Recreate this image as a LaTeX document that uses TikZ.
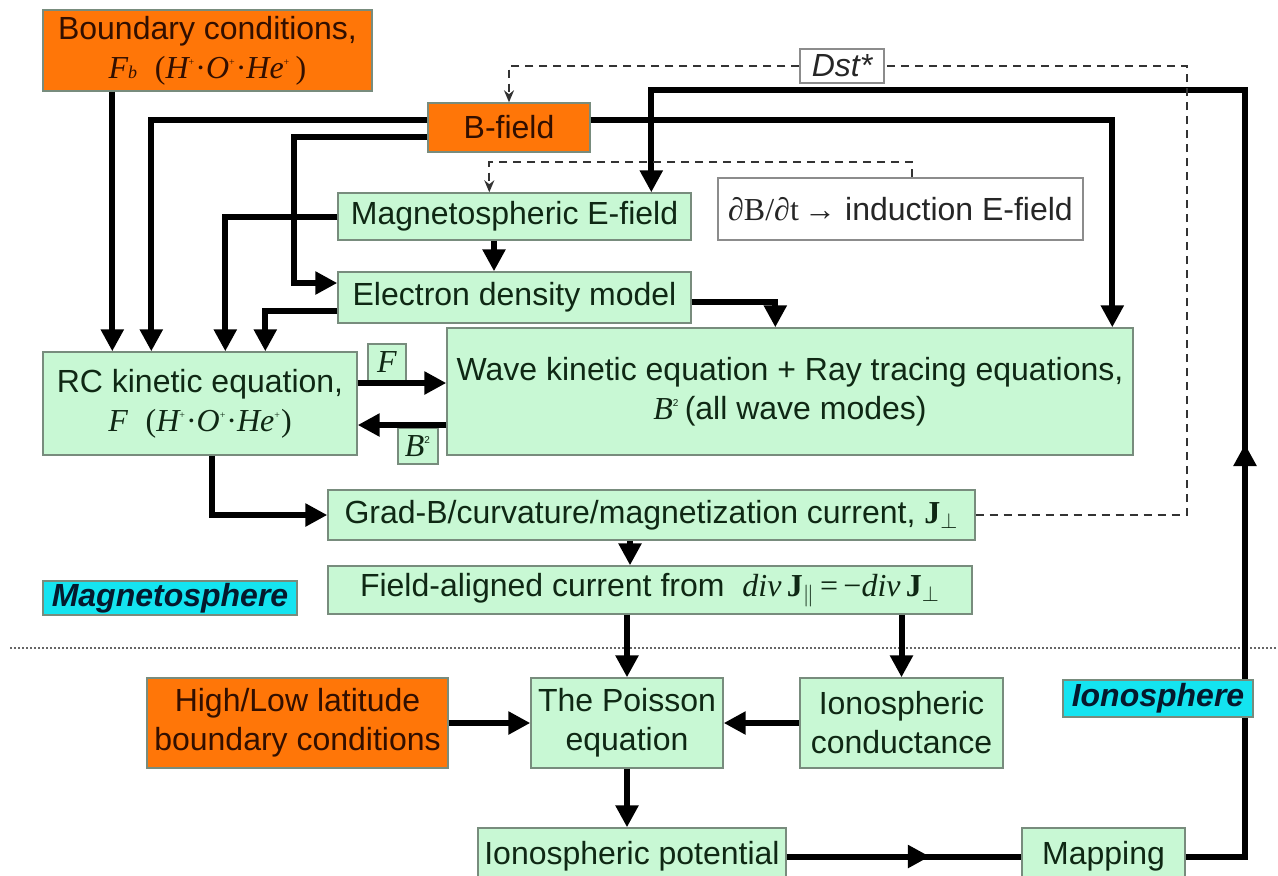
\documentclass[tikz,border=0pt]{standalone}
\usepackage{fontspec}
\setmainfont{Liberation Sans}
\newfontfamily\tmsfont{Liberation Serif}
\usetikzlibrary{arrows.meta,decorations.markings}
\definecolor{boxgreen}{RGB}{200,248,212}
\definecolor{boxorange}{RGB}{255,118,8}
\definecolor{boxcyan}{RGB}{20,228,240}
\definecolor{edgegray}{RGB}{120,140,125}
\definecolor{txtgreen}{RGB}{15,40,20}
\definecolor{txtbrown}{RGB}{50,15,0}
\definecolor{txtnavy}{RGB}{5,25,45}
\newcommand{\tmi}[1]{{\tmsfont\itshape #1}}
\newcommand{\tmb}[1]{{\tmsfont\bfseries #1}}
\newcommand{\sps}{\textsuperscript{\tiny +}}
\begin{document}
\begin{tikzpicture}[x=0.5pt,y=-0.5pt,
  base/.style={draw=edgegray, line width=0.7pt, inner sep=1pt, align=center, font=\fontsize{16}{19.5}\selectfont},
  gbox/.style={base, fill=boxgreen, text=txtgreen},
  obox/.style={base, fill=boxorange, text=txtbrown},
  cbox/.style={base, fill=boxcyan, text=txtnavy, font=\fontsize{16}{19.5}\selectfont\bfseries\itshape},
  wbox/.style={base, draw=black!45, fill=white, text=black!85},
  sbox/.style={gbox, inner sep=0pt},
  thkline/.style={line width=3pt},
  thk/.style={line width=3pt, -{Triangle[width=11pt,length=11pt]}},
  midarrow/.style={postaction={decorate}, decoration={markings, mark=at position #1 with {\arrow{Triangle[width=11pt,length=11pt]}}}},
  dsh/.style={draw=black!80, line width=0.9pt, dash pattern=on 4pt off 3pt},
  dtip/.style={-{Stealth[width=5pt,length=6pt]}},
  sepline/.style={draw=black!60, line width=0.7pt, dash pattern=on 0.8pt off 1.2pt}
]
\clip (0,0) rectangle (1278,875);
\fill[white] (0,0) rectangle (1278,875);

% nodes
\node[obox, minimum width=164.5pt, minimum height=40.5pt] (bc) at (207.5,50.5)
  {Boundary conditions,\\ \tmi{F}{\tmsfont\itshape\small b}\ \ {\tmsfont(\tmi{H}\sps·\tmi{O}\sps·\tmi{He}\sps\,)}};
\node[wbox, minimum width=42pt, minimum height=17pt, font=\fontsize{16}{19}\selectfont\itshape] (dst) at (842,66) {Dst*};
\node[obox, minimum width=81pt, minimum height=24.5pt] (bfield) at (509,127.5) {B-field};
\node[gbox, minimum width=176.5pt, minimum height=23.5pt] (efield) at (514.5,216.5) {Magnetospheric E-field};
\node[wbox, minimum width=182.5pt, minimum height=31pt] (induc) at (900.5,209) {{\tmsfont ∂B/∂t\,→}\ induction E-field};
\node[gbox, minimum width=176.5pt, minimum height=25.5pt] (edens) at (514.5,297.5) {Electron density model};
\node[gbox, minimum width=157pt, minimum height=51.5pt] (rc) at (200,403.5)
  {RC kinetic equation,\\ \tmi{F}\ \ {\tmsfont(\tmi{H}\sps·\tmi{O}\sps·\tmi{He}\sps)}};
\node[sbox, minimum width=19pt, minimum height=18.5pt] (fbox) at (387,362.5) {\tmi{F}};
\node[sbox, minimum width=20pt, minimum height=18pt] (b2box) at (418,446) {\tmi{B}\textsuperscript{\tiny 2}};
\node[gbox, minimum width=343pt, minimum height=63.5pt] (wave) at (790,391.5)
  {Wave kinetic equation + Ray tracing equations,\\ \tmi{B}\textsuperscript{\tiny 2}\,(all wave modes)};
\node[gbox, minimum width=323.5pt, minimum height=25pt] (gradb) at (651.5,515)
  {Grad-B/curvature/magnetization current, \tmb{J}\textsubscript{$\perp$}};
\node[gbox, minimum width=322pt, minimum height=24pt] (fac) at (650,590)
  {Field-aligned current from\ \ \tmi{div}\,\tmb{J}\textsubscript{$\parallel$}{\tmsfont\,=\,−}\tmi{div}\,\tmb{J}\textsubscript{$\perp$}};
\node[cbox, minimum width=127pt, minimum height=16pt] (magneto) at (170,598) {Magnetosphere};
\node[obox, minimum width=150.5pt, minimum height=45pt] (hilo) at (297.5,723) {High/Low latitude\\boundary conditions};
\node[gbox, minimum width=96pt, minimum height=45pt] (poisson) at (627,723) {The Poisson\\equation};
\node[gbox, minimum width=101.5pt, minimum height=45pt] (iconduc) at (901.5,723) {Ionospheric\\conductance};
\node[gbox, minimum width=154pt, minimum height=28.5pt] (ipot) at (632,856.5) {Ionospheric potential};
\node[gbox, minimum width=81.5pt, minimum height=28.5pt] (mapping) at (1103.5,856.5) {Mapping};

% separator
\draw[sepline] (10,648) -- (1278,648);

% thick connectors
\draw[thk] ([xshift=35pt]bc.south west) -- ([xshift=35pt]rc.north west);
\draw[thk] ([yshift=3.75pt]bfield.west) -| ([xshift=54.5pt]rc.north west);
\draw[thk] ([yshift=-4.75pt]bfield.west) -| ([xshift=-21.5pt,yshift=7.25pt]edens.west) -- ([yshift=7.25pt]edens.west);
\draw[thk] (efield.west) -| ([xshift=91.5pt]rc.north west);
\draw[thk] ([yshift=-6.75pt]edens.west) -| ([xshift=111.5pt]rc.north west);
\draw[thk] ([yshift=-2.25pt]edens.east) -| ([xshift=164.5pt]wave.north west);
\draw[thk] ([xshift=-10.25pt]efield.south) -- ([xshift=-10.25pt]edens.north);
\draw[thk] ([yshift=3.75pt]bfield.east) -| ([xshift=333pt]wave.north west);
\coordinate (tr) at (1245,90);
\draw[thk, midarrow=0.31] (mapping.east) -| (tr) -| ([xshift=157pt]efield.north west);
\draw[thkline, midarrow=0.61] (ipot.east) -- (mapping.west);
\draw[thk] (poisson.south) -- (poisson.south |- ipot.north);
\draw[thk] (poisson.north |- fac.south) -- (poisson.north);
\draw[thk] (iconduc.north |- fac.south) -- (iconduc.north);
\draw[thk] (hilo.east) -- (poisson.west);
\draw[thk] (iconduc.west) -- (poisson.east);
\draw[thk] ([xshift=-10.75pt]gradb.south) -- ([xshift=-10pt]fac.north);
\draw[thk] ([xshift=85pt]rc.south west) |- (gradb.west);
\draw[thk] ([yshift=10.25pt]rc.east) -- ([yshift=4.25pt]wave.west);
\draw[thk] ([yshift=-16.75pt]wave.west) -- ([yshift=-10.75pt]rc.east);

% dashed connectors
\draw[dsh, dtip] (dst.west) -| (bfield.north);
\draw[dsh] (gradb.east) -| ([xshift=151pt]dst.east) -- (dst.east);
\draw[dsh, dtip] ([xshift=5.75pt]induc.north) -- ([xshift=5.75pt,yshift=7.5pt]induc.north) -| ([xshift=76pt]efield.north west);

% label on top of the line
\node[cbox, minimum width=95pt, minimum height=18.5pt] (iono) at (1158,698.5) {Ionosphere};
\end{tikzpicture}
\end{document}
